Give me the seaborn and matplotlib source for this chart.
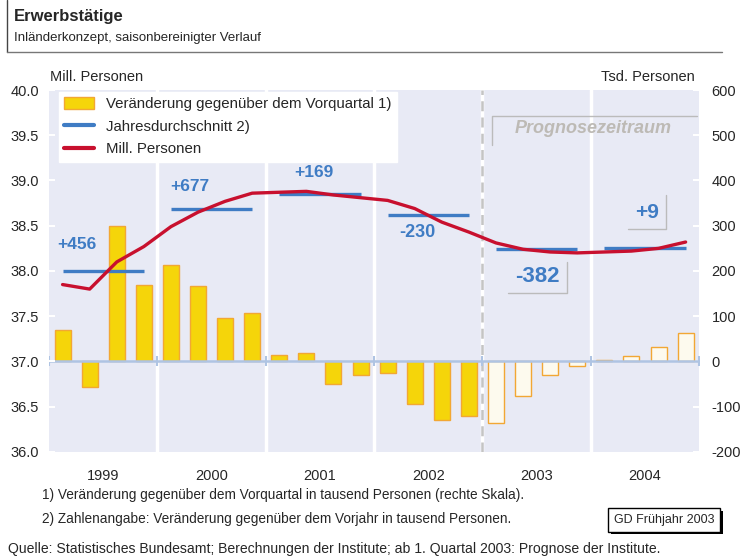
import matplotlib
matplotlib.use("Agg")
import matplotlib.pyplot as plt
import matplotlib.ticker as mticker
import matplotlib.patheffects as pe
from matplotlib.patches import Patch
from matplotlib.lines import Line2D
import numpy as np
import pandas as pd
import seaborn as sns

# ---------------------------------------------------------------------------
# Data
# ---------------------------------------------------------------------------
years = [1999, 2000, 2001, 2002, 2003, 2004]
# change vs previous quarter, thousand persons (right scale)
quarter_change = [70, -57, 300, 168,
                  214, 166, 96, 108,
                  14, 18, -49, -29,
                  -26, -93, -130, -121,
                  -137, -77, -29, -9,
                  4, 13, 32, 63]
# employed persons, millions (left scale)
mill_personen = [37.85, 37.80, 38.10, 38.27,
                 38.49, 38.65, 38.77, 38.86,
                 38.87, 38.88, 38.84, 38.81,
                 38.78, 38.69, 38.54, 38.43,
                 38.31, 38.24, 38.21, 38.20,
                 38.21, 38.22, 38.25, 38.32]
year_avg = [38.00, 38.68, 38.85, 38.62, 38.24, 38.25]
year_change = ["+456", "+677", "+169", "-230", "-382", "+9"]
forecast_from = 2003

YELLOW = "#F5D50A"
ORANGE = "#F2A734"
PALE = "#FDFAEE"
BLUE = "#3F7CC4"
RED = "#C8102E"
BG = "#E8EAF5"

NARROW = ["Liberation Sans Narrow", "Liberation Sans", "DejaVu Sans"]
REGULAR = ["Liberation Sans", "DejaVu Sans"]

sns.set_style("white")
plt.rcParams["font.family"] = REGULAR
plt.rcParams["axes.unicode_minus"] = False

n_q = len(quarter_change)
df = pd.DataFrame({
    "q": np.arange(n_q),
    "year": np.repeat(years, 4),
    "change": quarter_change,
    "mill": mill_personen,
})
df["forecast"] = df["year"] >= forecast_from

fig = plt.figure(figsize=(7.43, 5.58), dpi=100)
ax = fig.add_axes([0.066, 0.19, 0.875, 0.6487])
ax.set_facecolor(BG)
for s in ax.spines.values():
    s.set_visible(False)

# bars: actual and forecast
sns.barplot(data=df[~df["forecast"]], x="q", y="change", native_scale=True,
            width=0.59, color=YELLOW, saturation=1, edgecolor=ORANGE,
            linewidth=1, errorbar=None, ax=ax, zorder=2)
sns.barplot(data=df[df["forecast"]], x="q", y="change", native_scale=True,
            width=0.59, color=PALE, saturation=1, edgecolor=ORANGE,
            linewidth=1, errorbar=None, ax=ax, zorder=2)

# year separators
bounds = np.arange(0, n_q + 1, 4) - 0.5
fc_bound = (forecast_from - years[0]) * 4 - 0.5
for b in bounds[1:-1]:
    ax.axvline(b, color="white", lw=2.5, zorder=1)
ax.axvline(fc_bound, color="#C4C4C4", lw=1.8, ls=(0, (4, 2.5)), zorder=1.5)

# zero line with little ticks at year bounds
ax.axhline(0, color="#AFC4E3", lw=1.8, zorder=3)
ax.plot(bounds, np.zeros(len(bounds)), ls="none", marker="|", ms=7,
        mew=1.5, color="#AFC4E3", zorder=3)

ax.set_xlim(-0.5, n_q - 0.5)
ax.set_ylim(-200, 600)
ax.set_xticks(np.arange(1.5, n_q, 4))
ax.set_xticklabels(years, fontsize=10.5)
ax.tick_params(axis="x", length=0, pad=12)
ax.set_xlabel("")
ax.set_ylabel("")
ax.set_yticks(np.arange(-200, 601, 100))

# line axis (left scale)
ax2 = ax.twinx()
ax.yaxis.tick_right()
ax2.yaxis.tick_left()
ax.tick_params(axis="y", direction="in", length=4, width=1.5, color="white",
               labelsize=10.5, pad=9, left=False, labelleft=False,
               right=True, labelright=True)
for s in ax2.spines.values():
    s.set_visible(False)
sns.lineplot(data=df, x="q", y="mill", color=RED, lw=2.4, ax=ax2, zorder=4)
ax2.hlines(year_avg, np.arange(0, n_q, 4), np.arange(3, n_q, 4),
           color=BLUE, lw=2.4, zorder=3.5)
ax2.set_ylim(36, 40)
ax2.set_yticks(np.arange(36, 40.01, 0.5))
ax2.yaxis.set_major_formatter(mticker.FormatStrFormatter("%.1f"))
ax2.tick_params(axis="y", direction="in", length=4, width=1.5, color="white",
                labelsize=10.5, pad=7, left=True, labelleft=True,
                right=False, labelright=False)
ax2.set_xlabel("")
ax2.set_ylabel("")
ax2.set_xlim(-0.5, n_q - 0.5)

# yearly change labels (x, y in left-scale data coords, size)
label_pos = [(0.53, 38.29, 12.5), (4.71, 38.93, 12.5), (9.29, 39.09, 12.5),
             (13.09, 38.42, 13), (17.52, 37.94, 16), (21.58, 38.65, 15)]
for txt, (x, y, fs) in zip(year_change, label_pos):
    ax2.text(x, y, txt, ha="center", va="center", fontsize=fs,
             fontweight="bold", color=BLUE, zorder=5)

GRAY = "#BBBBBB"
# open boxes around -382 and +9
ax2.plot([16.45, 18.63, 18.63], [37.757, 37.757, 38.10], color=GRAY, lw=1, zorder=5)
ax2.plot([20.88, 22.28, 22.28], [38.46, 38.46, 38.84], color=GRAY, lw=1, zorder=5)
# Prognosezeitraum
ax2.plot([15.85, 15.85, 23.42], [39.39, 39.716, 39.716], color=GRAY, lw=1, zorder=5)
ax2.text(19.59, 39.57, "Prognosezeitraum", ha="center", va="center",
         fontsize=13, fontweight="bold", fontstyle="italic", color="#BDBAB5",
         zorder=5)

handles = [Patch(facecolor=YELLOW, edgecolor=ORANGE, lw=1),
           Line2D([], [], color=BLUE, lw=3),
           Line2D([], [], color=RED, lw=3)]
labels = ["Veränderung gegenüber dem Vorquartal 1)",
          "Jahresdurchschnitt 2)", "Mill. Personen"]
leg = ax2.legend(handles, labels, loc="upper left",
                 bbox_to_anchor=(0.015, 0.995), borderaxespad=0,
                 fontsize=10.8, frameon=True, fancybox=False,
                 framealpha=1, edgecolor="white", labelspacing=0.58,
                 handlelength=2.0, handleheight=0.8, borderpad=0.35)
leg.get_frame().set_facecolor("white")
leg.set_zorder(10)

# header
fig.add_artist(Line2D([7 / 743, 7 / 743], [1, 1 - 52 / 558], color="#444444", lw=1))
fig.add_artist(Line2D([7 / 743, 722 / 743], [1 - 52 / 558, 1 - 52 / 558],
                      color="#777777", lw=1))
fig.text(14 / 743, 1 - 16 / 558, "Erwerbstätige", fontsize=12,
         fontweight="bold", family=NARROW, va="center")
fig.text(14 / 743, 1 - 38 / 558, "Inländerkonzept, saisonbereinigter Verlauf",
         fontsize=9.5, family=NARROW, va="center")
fig.text(50 / 743, 1 - 77 / 558, "Mill. Personen", fontsize=10.5, va="center")
fig.text(695 / 743, 1 - 77 / 558, "Tsd. Personen", fontsize=10.5,
         va="center", ha="right")

# footnotes
fig.text(42 / 743, 1 - 495 / 558,
         "1) Veränderung gegenüber dem Vorquartal in tausend Personen (rechte Skala).",
         fontsize=9.8, family=NARROW, va="center")
fig.text(42 / 743, 1 - 519 / 558,
         "2) Zahlenangabe: Veränderung gegenüber dem Vorjahr in tausend Personen.",
         fontsize=9.8, family=NARROW, va="center")
fig.text(8 / 743, 1 - 549 / 558,
         "Quelle: Statistisches Bundesamt; Berechnungen der Institute; ab 1. Quartal 2003: Prognose der Institute.",
         fontsize=10.1, family=NARROW, va="center")
# stamp with drop shadow
stamp = fig.text(664 / 743, 1 - 520 / 558, "GD Frühjahr 2003", fontsize=9,
                 family=NARROW, ha="center", va="center",
                 bbox=dict(boxstyle="square,pad=0.45", facecolor="white",
                           edgecolor="black", lw=1))
stamp.get_bbox_patch().set_path_effects(
    [pe.SimplePatchShadow(offset=(2, -2), shadow_rgbFace="black", alpha=1),
     pe.Normal()])

fig.savefig("out.png", dpi=100)
